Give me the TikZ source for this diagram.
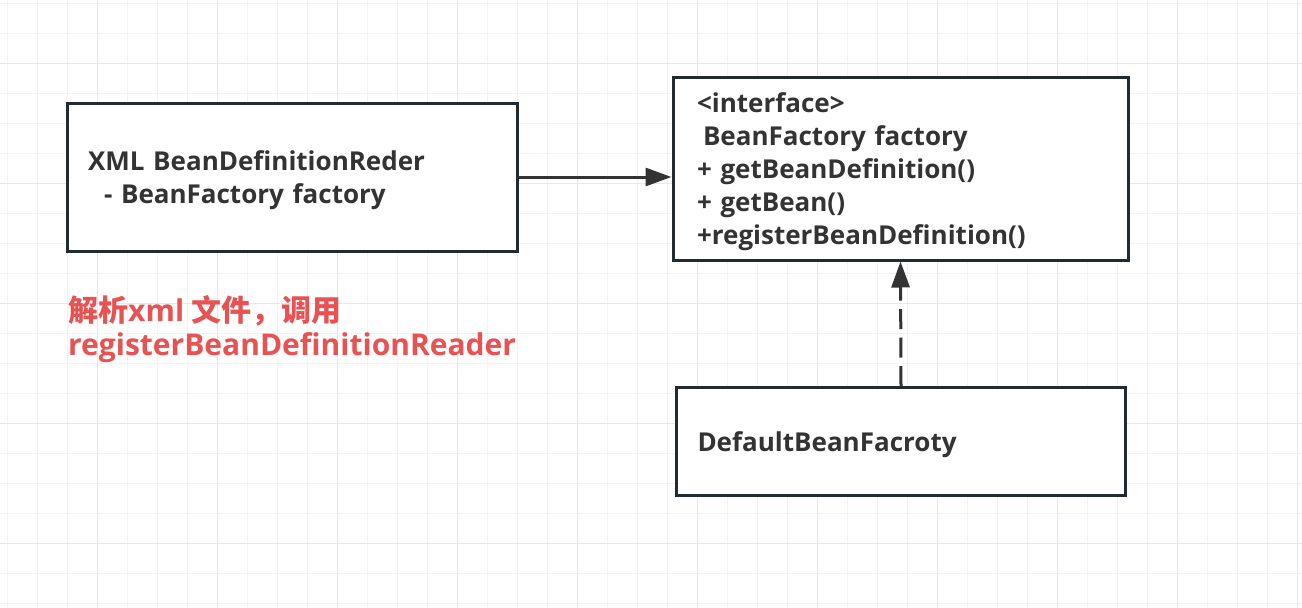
\documentclass[tikz,border=0pt]{standalone}
\usepackage{fontspec}
\setmainfont{Open Sans}
\newfontfamily\cjk{Noto Sans CJK SC}
\usetikzlibrary{arrows.meta}
\definecolor{boxline}{RGB}{34,42,50}
\definecolor{textgray}{RGB}{51,51,51}
\definecolor{notered}{RGB}{232,82,82}
\definecolor{gridminor}{RGB}{243,243,243}
\definecolor{gridmajor}{RGB}{232,232,232}

\begin{document}
\begin{tikzpicture}[x=1pt,y=-1pt,
  umlbox/.style={draw=boxline,line width=3pt,rectangle,inner sep=0pt,text height=26pt,
    font=\fontsize{26}{33}\selectfont\bfseries,text=textgray,align=left},
  link/.style={draw=textgray,line width=3pt,-{Triangle[length=26pt,width=18pt]}}]
\useasboundingbox[fill=white] (0,0) rectangle (1302,608);
\foreach \x in {0,...,43} \draw[gridminor,line width=1pt] (7+30*\x,0) -- (7+30*\x,608);
\foreach \y in {0,...,20} \draw[gridminor,line width=1pt] (0,3+30*\y) -- (1302,3+30*\y);
\foreach \x in {0,...,10} \draw[gridmajor,line width=1pt] (97+120*\x,0) -- (97+120*\x,608);
\foreach \y in {0,...,4} \draw[gridmajor,line width=1pt] (0,63+120*\y) -- (1302,63+120*\y);

\node[umlbox,fill=white,minimum width=450pt,minimum height=148pt,text width=408pt]
  (reader) at (292,177) {XML BeanDefinitionReder\\\hspace*{16pt}- BeanFactory factory};
\node[umlbox,fill=white,minimum width=455pt,minimum height=183pt,text width=407pt]
  (factory) at (900.5,168.5) {<interface>\\\hspace*{6pt}BeanFactory factory\\+ getBeanDefinition()\\+ getBean()\\+registerBeanDefinition()};
\node[umlbox,fill=white,minimum width=449pt,minimum height=108pt,text width=407pt]
  (default) at (901,441.5) {DefaultBeanFacroty};
\node[anchor=base west,align=left,text=notered,inner sep=0pt,
  font=\fontsize{30}{34}\selectfont\bfseries] (note) at (68,355)
  {{\cjk 解析}xml {\cjk 文件，调用}\\registerBeanDefinitionReader};

\draw[link] (reader.east) -- (reader.east -| factory.west);
\draw[link,dash pattern=on 20pt off 8.5pt] (default.north) -- (factory.south);
\end{tikzpicture}
\end{document}
